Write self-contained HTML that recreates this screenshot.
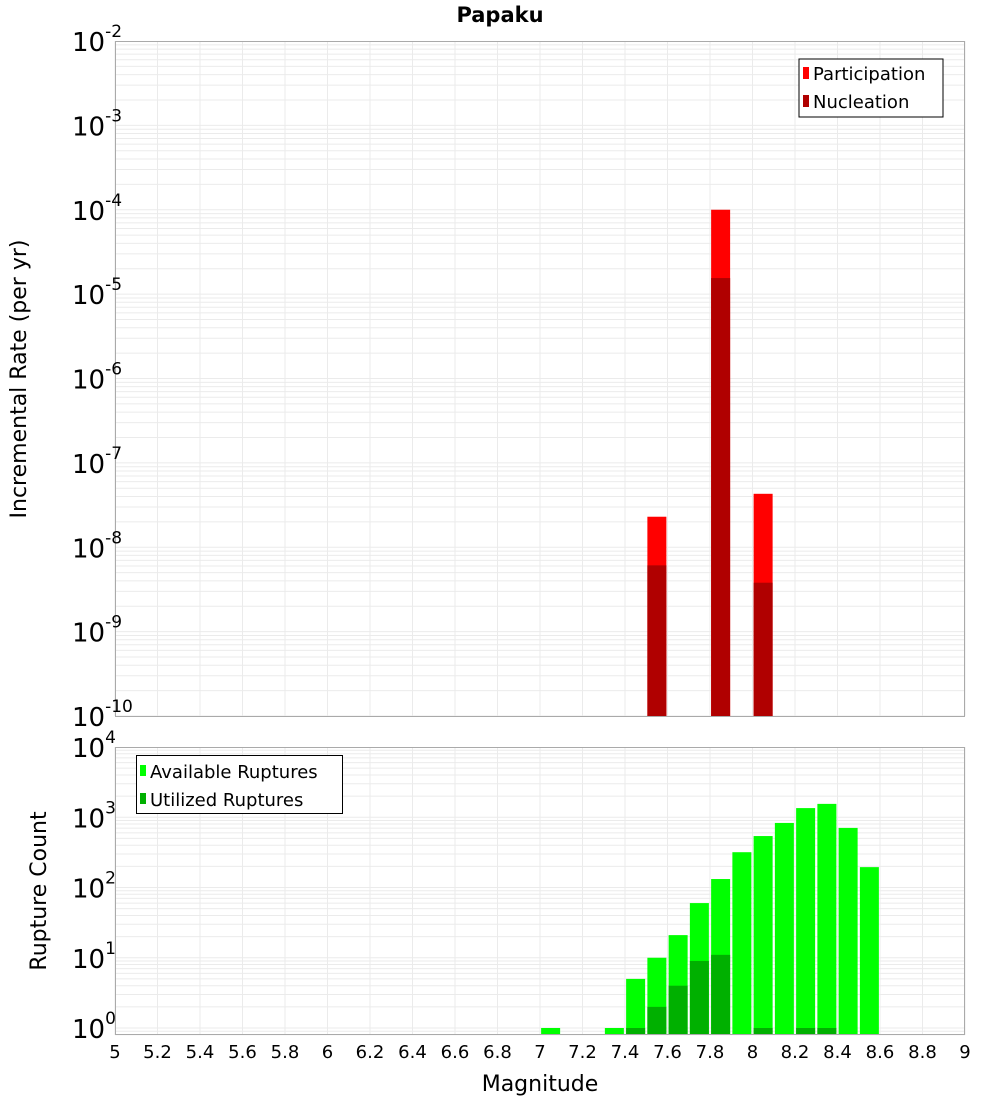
<!DOCTYPE html>
<html><head><meta charset="utf-8"><style>
body{margin:0;background:#fff;}
svg{display:block;font-family:"DejaVu Sans","Liberation Sans",sans-serif;}
</style></head><body>
<svg id="chart" width="1000" height="1100" xmlns="http://www.w3.org/2000/svg">
<text x="500" y="22" text-anchor="middle" font-size="21" font-weight="bold">Papaku</text>
<g id="top"></g>
<g id="bot"></g>
<text transform="translate(26,379) rotate(-90)" text-anchor="middle" font-size="22">Incremental Rate (per yr)</text>
<text transform="translate(46,891) rotate(-90)" text-anchor="middle" font-size="22">Rupture Count</text>
<text x="540" y="1091" text-anchor="middle" font-size="22">Magnitude</text>
<g>
<rect x="799" y="59" width="144" height="58" fill="#fff" stroke="#000" stroke-width="1"/>
<rect x="803" y="67" width="6" height="12" fill="#ff0000"/>
<text x="813" y="80" font-size="18">Participation</text>
<rect x="803" y="95" width="6" height="12" fill="#b00000"/>
<text x="813" y="108" font-size="18">Nucleation</text>
</g>
<g>
<rect x="136.5" y="755.5" width="206" height="58" fill="#fff" stroke="#000" stroke-width="1"/>
<rect x="140" y="765" width="6" height="11" fill="#00ff00"/>
<text x="150" y="778" font-size="18">Available Ruptures</text>
<rect x="140" y="793" width="6" height="11" fill="#00b000"/>
<text x="150" y="806" font-size="18">Utilized Ruptures</text>
</g>
</svg>
<script>
const topMags=[7.55,7.85,8.05];
const participation=[2.3e-8,1.0e-4,4.3e-8];
const nucleation=[6.1e-9,1.55e-5,3.8e-9];
const botMags=[7.05,7.35,7.45,7.55,7.65,7.75,7.85,7.95,8.05,8.15,8.25,8.35,8.45,8.55];
const available=[1,1,5,10,21,60,132,318,540,830,1350,1550,705,195];
const utilMags=[7.45,7.55,7.65,7.75,7.85,8.05,8.25,8.35];
const utilized=[1,2,4,9,11,1,1,1];
const xTicks=[5,5.2,5.4,5.6,5.8,6,6.2,6.4,6.6,6.8,7,7.2,7.4,7.6,7.8,8,8.2,8.4,8.6,8.8,9];
const topExps=[-2,-3,-4,-5,-6,-7,-8,-9,-10];
const botExps=[4,3,2,1,0];

const NS="http://www.w3.org/2000/svg";
const X0=115,X1=965;
const xs=m=>X0+(m-5)/4*(X1-X0);
const yTop=v=>41+(-2-Math.log10(v))*(716-41)/8;
const yBot=v=>1028-Math.log10(v)*70.25;
function mk(tag,attrs,parent,txt){const e=document.createElementNS(NS,tag);for(const k in attrs)e.setAttribute(k,attrs[k]);if(txt!==undefined)e.textContent=txt;parent.appendChild(e);return e;}
const bw=19;

function panel(g,y0,y1,yf,dmin,dmax,name){
  const bg=mk('rect',{x:X0,y:y0,width:X1-X0,height:y1-y0,fill:'#fff'},g);
  
  
  for(let d=dmin;d<dmax+1;d++){for(let k=1;k<10;k++){const v=k*Math.pow(10,d);const y=yf(v);if(y<y0||y>y1)continue;
    const l=mk('line',{x1:X0,x2:X1,y1:y,y2:y,stroke:'#ebebeb','stroke-width':1},g);
    
    }}
  xTicks.forEach(t=>{const l=mk('line',{x1:xs(t),x2:xs(t),y1:y0,y2:y1,stroke:'#ebebeb','stroke-width':1},g);
    
    });
}
const gt=document.getElementById('top'),gb=document.getElementById('bot');
panel(gt,41,716,yTop,-10,-3,'top');
panel(gb,747,1035,yBot,-1,3,'bottom');

topMags.forEach((m,i)=>{
  const p=mk('rect',{x:xs(m)-bw/2,y:yTop(participation[i]),width:bw,height:716-yTop(participation[i]),fill:'#ff0000'},gt);
  
  
  const n=mk('rect',{x:xs(m)-bw/2,y:yTop(nucleation[i]),width:bw,height:716-yTop(nucleation[i]),fill:'#b00000'},gt);
  
  
});
botMags.forEach((m,i)=>{
  const r=mk('rect',{x:xs(m)-bw/2,y:yBot(available[i]),width:bw,height:1035-yBot(available[i]),fill:'#00ff00'},gb);
  
  
});
utilMags.forEach((m,i)=>{
  const r=mk('rect',{x:xs(m)-bw/2,y:yBot(utilized[i]),width:bw,height:1035-yBot(utilized[i]),fill:'#00b000'},gb);
  
  
});
const b1=mk('rect',{x:X0+.5,y:41.5,width:X1-X0-1,height:675,fill:'none',stroke:'#aaa'},gt);


const b2=mk('rect',{x:X0+.5,y:747.5,width:X1-X0-1,height:287,fill:'none',stroke:'#aaa'},gb);



function ylab(g,y,e,name){
  const t=mk('text',{x:72,y:y+10,'font-size':26},g);
  
  
  mk('tspan',{},t,'10');
  mk('tspan',{dy:-14,'font-size':17},t,String(e));
}
topExps.forEach(e=>ylab(gt,yTop(Math.pow(10,e)),e,'top-y-tick-label'));
botExps.forEach(e=>ylab(gb,yBot(Math.pow(10,e)),e,'bottom-y-tick-label'));
xTicks.forEach(t=>{
  const l=mk('text',{x:xs(t),y:1058,'text-anchor':'middle','font-size':18},gb,String(t));
  
  
});
</script>
</body></html>
